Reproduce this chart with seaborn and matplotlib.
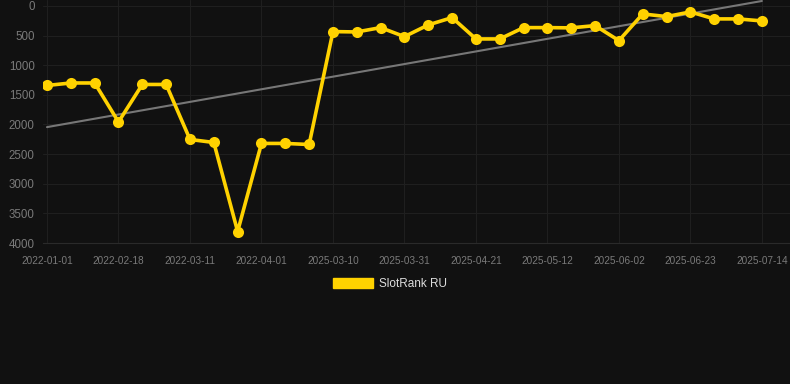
import numpy as np
import pandas as pd
import matplotlib
matplotlib.use("Agg")
import matplotlib.pyplot as plt
import seaborn as sns
from matplotlib.patches import Patch

# Data (rank values; lower = better, y axis inverted)
ranks = [1342, 1300, 1300, 1958, 1325, 1325, 2253, 2304, 3806, 2320, 2320, 2338,
         433, 439, 366, 518, 320, 197, 557, 557, 366, 366, 370, 332, 585,
         135, 180, 101, 219, 219, 253]
tick_labels = ["2022-01-01", "2022-02-18", "2022-03-11", "2022-04-01", "2025-03-10",
               "2025-03-31", "2025-04-21", "2025-05-12", "2025-06-02", "2025-06-23",
               "2025-07-14"]
series_name = "SlotRank RU"
y_ticks = [0, 500, 1000, 1500, 2000, 2500, 3000, 3500, 4000]

BG = "#111111"
GOLD = "#FFD200"

idx = np.arange(len(ranks))
df = pd.DataFrame({"idx": idx, "rank": ranks, "series": series_name})

sns.set_theme(style="dark")
plt.rcParams["font.family"] = ["Liberation Sans", "DejaVu Sans"]

fig = plt.figure(figsize=(7.9, 3.84), dpi=100, facecolor=BG)
ax = fig.add_axes([43 / 790, 1 - 243 / 384, 1 - 43 / 790, 243 / 384])
ax.set_facecolor(BG)

# trend line (linear regression)
coef = np.polyfit(idx, ranks, 1)
trend = np.polyval(coef, idx)
ax.plot(idx, trend, color="#777777", linewidth=1.5, zorder=2)

sns.lineplot(data=df, x="idx", y="rank", ax=ax, color=GOLD, linewidth=2.6,
             marker="o", markersize=8, markeredgewidth=0, legend=False, zorder=3)

ax.set_xlim(-0.168, 31.18)
ax.set_ylim(4000, -100)
ax.set_yticks(y_ticks)
ax.set_yticklabels([str(v) for v in y_ticks])
ax.set_xticks(idx[::3])
ax.set_xticklabels(tick_labels)
ax.set_xlabel("")
ax.set_ylabel("")

ax.grid(True, color="#1f1f1f", linewidth=0.8)
for s in ax.spines.values():
    s.set_visible(False)
ax.spines["bottom"].set_visible(True)
ax.spines["bottom"].set_color("#2a2a2a")
ax.spines["bottom"].set_linewidth(0.8)
ax.tick_params(axis="y", colors="#7a7a7a", labelsize=8.3, length=0, pad=6)
ax.tick_params(axis="x", colors="#7a7a7a", labelsize=7.2, length=0, pad=9)

# legend
handle = Patch(facecolor=GOLD, edgecolor=GOLD, label=series_name)
leg = fig.legend(handles=[handle], loc="center", bbox_to_anchor=(390 / 790, 1 - 284 / 384),
                 frameon=False, handlelength=3.4, handleheight=0.95, handletextpad=0.5,
                 fontsize=8.5)
for t in leg.get_texts():
    t.set_color("#dddddd")

fig.savefig("out.png", dpi=100, facecolor=BG)
